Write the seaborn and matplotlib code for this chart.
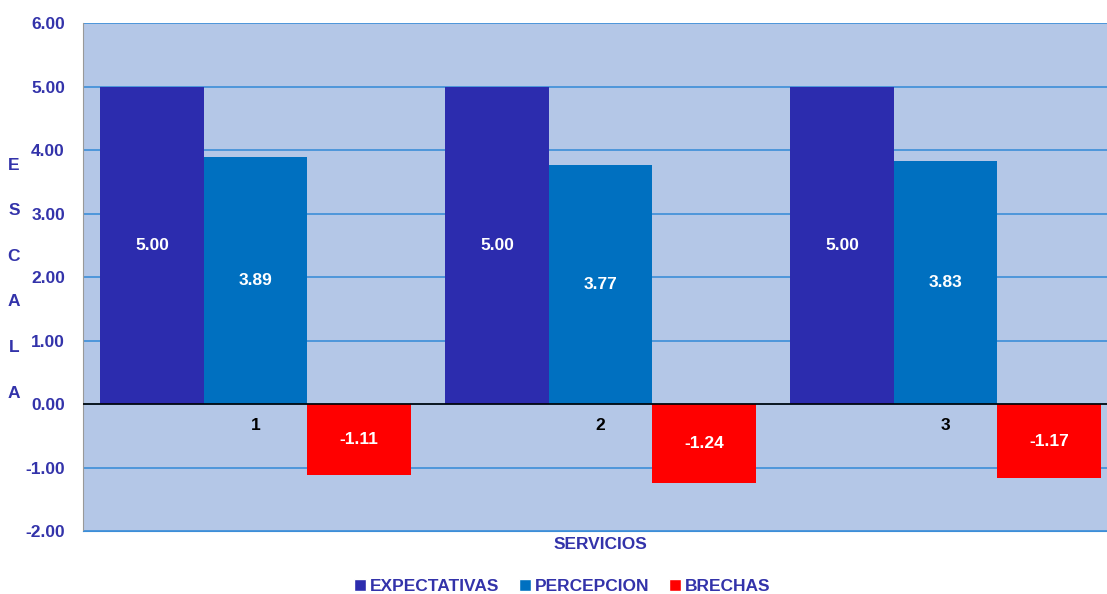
import pandas as pd
import matplotlib
matplotlib.use("Agg")
import matplotlib.pyplot as plt
import seaborn as sns
from matplotlib.patches import Patch

# Data
servicios = ["1", "2", "3"]
expectativas = [5.00, 5.00, 5.00]
percepcion = [3.89, 3.77, 3.83]
brechas = [-1.11, -1.24, -1.17]
series = ["EXPECTATIVAS", "PERCEPCION", "BRECHAS"]
colores = ["#2C2CAE", "#0070C0", "#FF0000"]

df = pd.DataFrame({
    "Servicio": servicios * 3,
    "Valor": expectativas + percepcion + brechas,
    "Serie": [s for s in series for _ in servicios],
})

sns.set_style("white")
plt.rcParams["font.family"] = ["Liberation Sans", "DejaVu Sans"]

fig = plt.figure(figsize=(11.07, 5.94), dpi=100)
ax = fig.add_axes([0.075, 0.106, 0.935, 0.855])
ax.set_facecolor("#B4C7E7")

sns.barplot(data=df, x="Servicio", y="Valor", hue="Serie", palette=colores,
            width=0.9, saturation=1, ax=ax, legend=False, zorder=3,
            linewidth=0)

for cont in ax.containers:
    ax.bar_label(cont, fmt="%.2f", label_type="center", color="white",
                 fontsize=12.5, fontweight="bold")

ax.set_ylim(-2, 6)
ax.set_yticks(range(-2, 7))
ax.set_yticklabels([f"{v:.2f}" for v in range(-2, 7)], color="#3333AA",
                   fontsize=12.5, fontweight="bold")
ax.yaxis.grid(True, color="#3C8ED8", linewidth=1.2, zorder=0)
ax.axhline(0, color="black", linewidth=1.2, zorder=4)
ax.tick_params(axis="y", length=5, color="#999999", pad=8)

# category labels just below zero line
ax.set_xticks([])
for i, s in enumerate(servicios):
    ax.text(i, -0.33, s, ha="center", va="center", fontsize=12.5,
            fontweight="bold", color="black")

for side in ["top", "right"]:
    ax.spines[side].set_visible(False)
ax.spines["left"].set_color("#999999")
ax.spines["bottom"].set_color("#3C8ED8")
ax.set_ylabel("")
ax.set_xlabel("SERVICIOS", color="#3333AA", fontsize=12.5, fontweight="bold")
ax.xaxis.set_label_coords(0.4995, -0.012)
ax.xaxis.label.set_va("top")

# vertical "ESCALA" label
for i, ch in enumerate("ESCALA"):
    fig.text(14 / 1107, 1 - (165 + i * 45.6) / 594, ch, ha="center",
             va="center", color="#3333AA", fontsize=12.5, fontweight="bold")

handles = [Patch(facecolor=c, label=s) for s, c in zip(series, colores)]
leg = fig.legend(handles=handles, loc="center", bbox_to_anchor=(0.508, 0.013),
                 ncol=3, frameon=False, handlelength=0.7, handleheight=0.7,
                 handletextpad=0.2, columnspacing=1.15,
                 prop={"size": 12.5, "weight": "bold"})
for t in leg.get_texts():
    t.set_color("#3333AA")

fig.savefig("out.png", dpi=100)
